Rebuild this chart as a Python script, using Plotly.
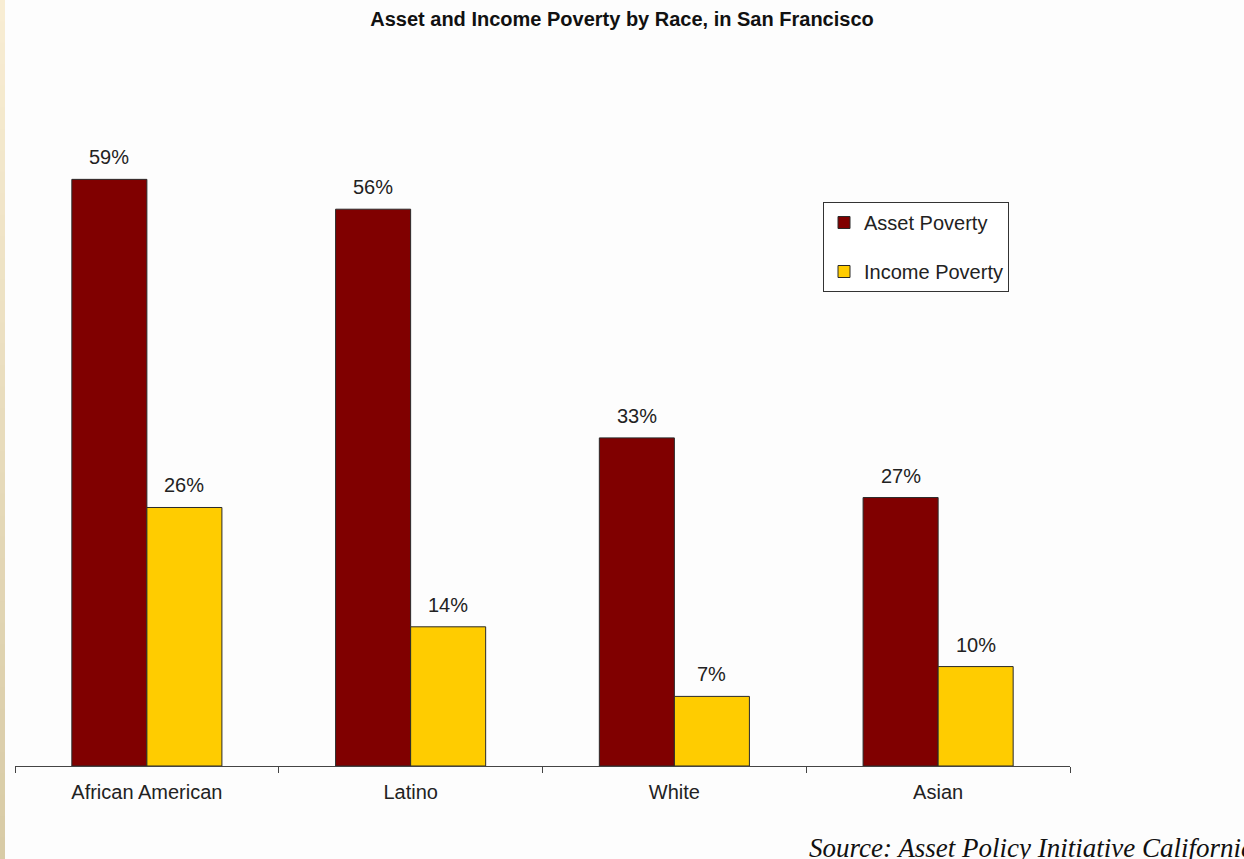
import plotly.graph_objects as go

# Share of households in poverty, San Francisco (percent)
races = ["African American", "Latino", "White", "Asian"]
asset_poverty = [59, 56, 33, 27]
income_poverty = [26, 14, 7, 10]

series_names = ["Asset Poverty", "Income Poverty"]
series_colors = ["#800000", "#FFCC00"]

W, H = 1244, 859
ML, MR, MT, MB = 15, 174, 70, 93
plot_w = W - ML - MR
plot_h = H - MT - MB
BARGAP = 0.431
bar_px = plot_w / len(races) * (1 - BARGAP) / 2

fig = go.Figure()
for i, (name, vals, col) in enumerate(zip(series_names, [asset_poverty, income_poverty], series_colors)):
    fig.add_trace(go.Bar(
        x=races, y=vals, name=name, legendgroup=name,
        marker=dict(color=col, line=dict(color="#2a2a2a", width=1)),
    ))

# value labels above each bar
annotations = []
for vals, shift in [(asset_poverty, -bar_px / 2), (income_poverty, bar_px / 2)]:
    for r, v in zip(races, vals):
        annotations.append(dict(
            x=r, y=v, xref="x", yref="y", text=f"{v}%", showarrow=False,
            xshift=shift, yshift=9, yanchor="bottom",
            font=dict(family="Liberation Sans, Arial", size=20, color="#222"),
        ))

annotations.append(dict(
    x=(807 - ML) / plot_w, y=(H - MB - 848) / plot_h, xref="paper", yref="paper",
    text="<i>Source: Asset Policy Initiative California</i>", showarrow=False,
    xanchor="left", yanchor="middle",
    font=dict(family="Liberation Serif, Times New Roman", size=27, color="#111"),
))

# beige strip along the left edge
shapes = []
n_steps = 40
top_rgb = (248, 237, 211)
bot_rgb = (216, 203, 166)
for k in range(n_steps):
    t = k / (n_steps - 1)
    c = tuple(round(a + (b - a) * t) for a, b in zip(top_rgb, bot_rgb))
    py0 = H * k / n_steps
    py1 = H * (k + 1) / n_steps + 1
    shapes.append(dict(
        type="rect", xref="paper", yref="paper", layer="below",
        x0=-ML / plot_w, x1=(5 - ML) / plot_w,
        y0=(H - MB - py1) / plot_h, y1=(H - MB - py0) / plot_h,
        fillcolor=f"rgb{c}", line=dict(width=0),
    ))

fig.update_layout(
    width=W, height=H,
    margin=dict(l=ML, r=MR, t=MT, b=MB),
    paper_bgcolor="#FDFDFD", plot_bgcolor="#FDFDFD",
    barmode="group", bargap=BARGAP, bargroupgap=0,
    font=dict(family="Liberation Sans, Arial", size=20, color="#222"),
    title=dict(
        text="<b>Asset and Income Poverty by Race, in San Francisco</b>",
        x=0.5, xref="container", y=1 - 19 / H, yref="container",
        xanchor="center", yanchor="middle",
        font=dict(family="Liberation Sans, Arial", size=20, color="#111"),
    ),
    legend=dict(
        x=(823 - ML) / plot_w, y=(H - MB - 202) / plot_h,
        xanchor="left", yanchor="top",
        bgcolor="#FFFFFF", bordercolor="#333", borderwidth=1,
        font=dict(size=20, color="#222"), tracegroupgap=20,
    ),
    xaxis=dict(
        range=[-0.5, 3.5], showline=True, linecolor="#444", linewidth=1,
        ticks="outside", tickson="boundaries", ticklen=6, tickcolor="#444",
        ticklabelstandoff=8, showgrid=False,
        tickfont=dict(size=20, color="#222"),
    ),
    yaxis=dict(range=[0, 70], visible=False, showgrid=False, zeroline=False),
    annotations=annotations, shapes=shapes,
    showlegend=True,
)

fig.write_html("out.html")
